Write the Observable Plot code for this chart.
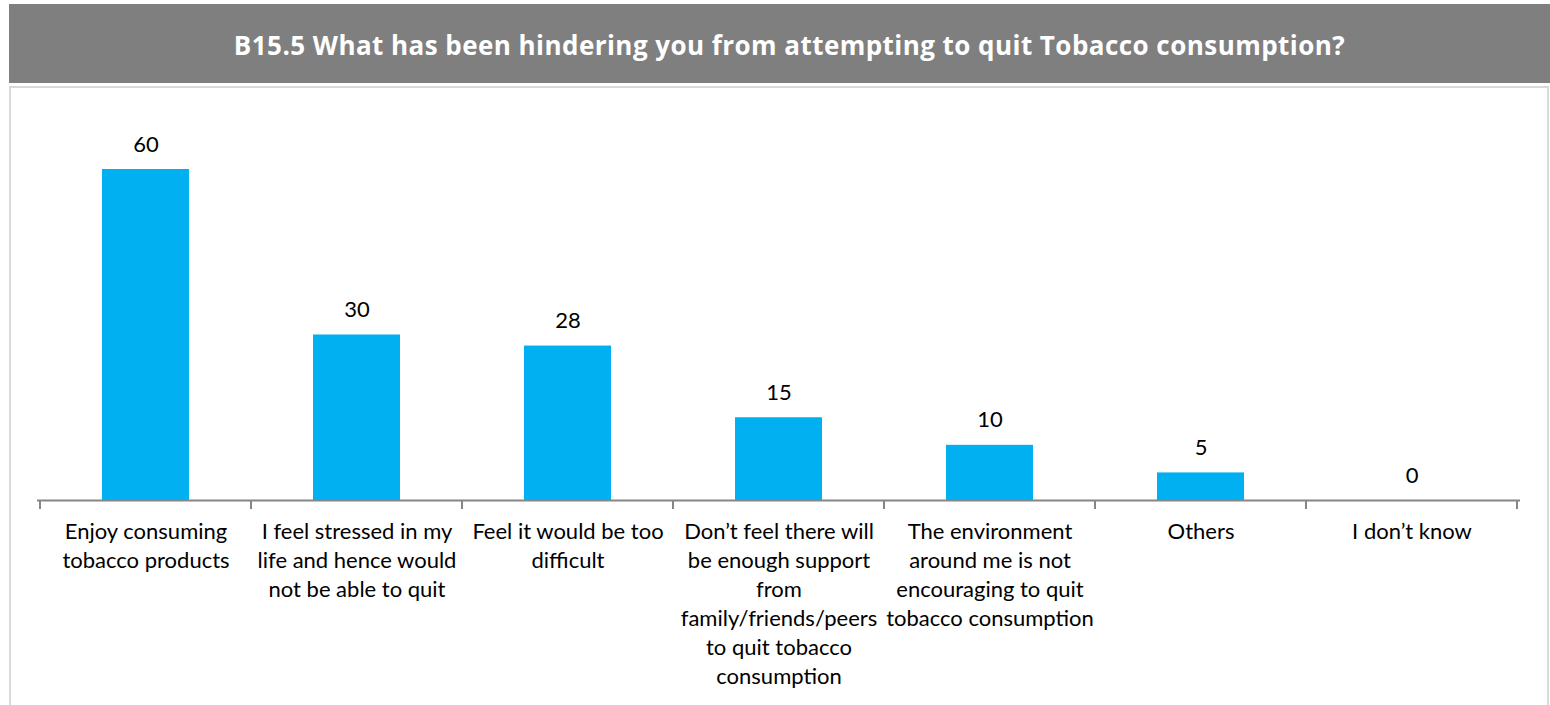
<!DOCTYPE html>
<html>
<head>
<meta charset="utf-8">
<script src="https://cdn.jsdelivr.net/npm/d3@7"></script>
<script src="https://cdn.jsdelivr.net/npm/@observablehq/plot@0.6"></script>
<style>
  html, body { margin: 0; padding: 0; background: #fff; width: 1550px; height: 705px; overflow: hidden; }
  #title { position: absolute; left: 9px; top: 4px; width: 1541px; height: 79px; background: #7f7f7f; color: #fff;
    font-family: "Open Sans", Lato, sans-serif; font-weight: bold; font-size: 26px; letter-spacing: 0.45px; display: flex; align-items: center; justify-content: center; }
  #title span { position: relative; top: 1px; left: 10px; }
  #frame { position: absolute; left: 9px; top: 86px; width: 1536px; height: 640px; border: 2px solid #d9d9d9; }
  #chart { position: absolute; left: 0; top: 86px; }
</style>
</head>
<body>
<div id="title"><span>B15.5 What has been hindering you from attempting to quit Tobacco consumption?</span></div>
<div id="frame"></div>
<div id="chart"></div>
<script>
const categories = [
  "Enjoy consuming tobacco products",
  "I feel stressed in my life and hence would not be able to quit",
  "Feel it would be too difficult",
  "Don’t feel there will be enough support from family/friends/peers to quit tobacco consumption",
  "The environment around me is not encouraging to quit tobacco consumption",
  "Others",
  "I don’t know"
];
const values = [60, 30, 28, 15, 10, 5, 0];
const tickLabels = [
  "Enjoy consuming\ntobacco products",
  "I feel stressed in my\nlife and hence would\nnot be able to quit",
  "Feel it would be too\ndifficult",
  "Don’t feel there will\nbe enough support\nfrom\nfamily/friends/peers\nto quit tobacco\nconsumption",
  "The environment\naround me is not\nencouraging to quit\ntobacco consumption",
  "Others",
  "I don’t know"
];

const data = categories.map((c, i) => ({category: c, value: values[i], label: tickLabels[i]}));

function boundaryTicks(index, scales) {
  const x = scales.x, y = scales.y;
  const bw = typeof x.bandwidth === "function" ? x.bandwidth() : x.bandwidth;
  const step = typeof x.step === "function" ? x.step() : x.step;
  const y0 = y(0);
  const g = d3.create("svg:g").attr("stroke", "#868686").attr("stroke-width", 2);
  const xs = categories.map(c => x(c) + bw / 2 - step / 2);
  xs.push(xs[xs.length - 1] + step);
  for (const xv of xs) {
    g.append("line").attr("x1", xv).attr("x2", xv).attr("y1", y0).attr("y2", y0 + 9);
  }
  return g.node();
}

const chart = Plot.plot({
  width: 1550,
  height: 619,
  marginTop: 83,
  marginBottom: 205,
  marginLeft: 37,
  marginRight: 30,
  style: {fontFamily: "Lato, 'Open Sans', sans-serif", fontSize: "22px", color: "#000", background: "transparent"},
  x: {domain: categories, type: "band", paddingInner: 0.59, paddingOuter: 0.295, axis: null},
  y: {domain: [0, 60], axis: null},
  marks: [
    Plot.barY(data, {x: "category", y: "value", fill: "#00b0f0"}),
    Plot.ruleY([0], {stroke: "#868686", strokeWidth: 2}),
    boundaryTicks,
    Plot.text(data, {x: "category", y: "value", text: d => String(d.value), dy: -25, fill: "#000", fontSize: 22}),
    Plot.text(data, {x: "category", y: () => 0, text: "label", lineAnchor: "top", dy: 18, lineHeight: 1.32, fill: "#000", fontSize: 22})
  ]
});
document.getElementById("chart").appendChild(chart);
</script>
</body>
</html>
